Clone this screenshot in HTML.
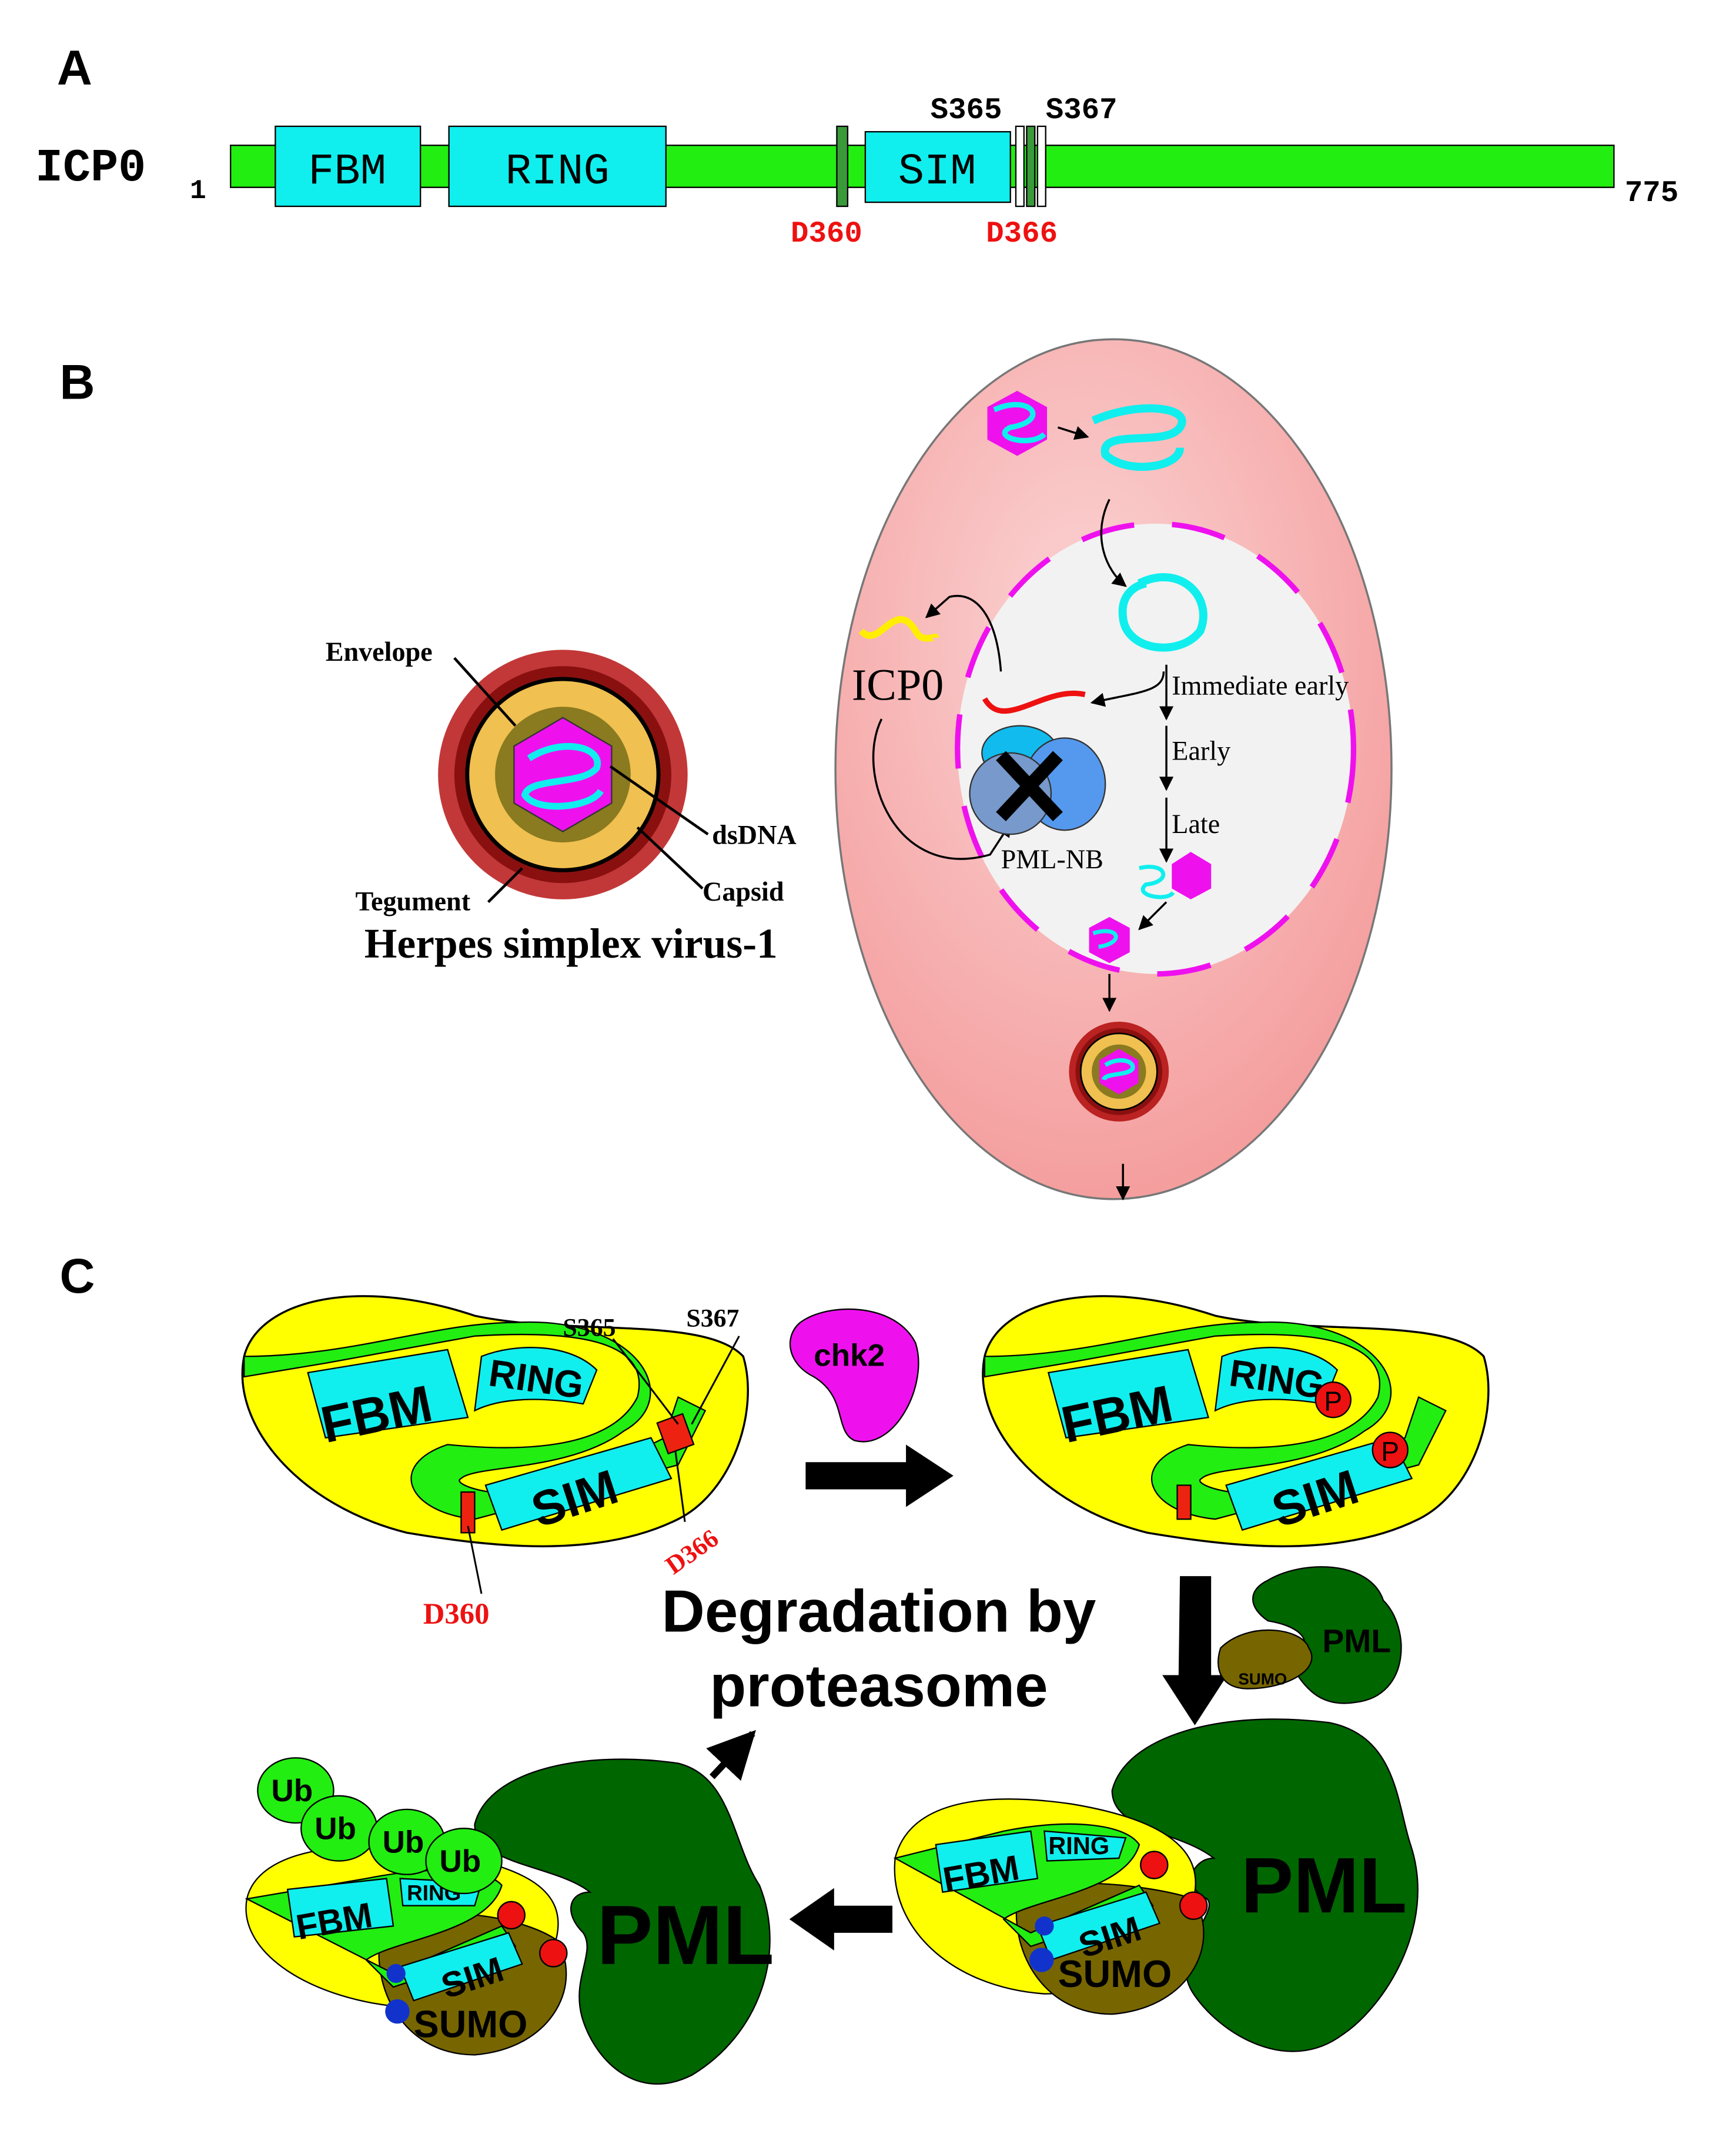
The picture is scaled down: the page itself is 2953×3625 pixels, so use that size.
<!DOCTYPE html>
<html><head><meta charset="utf-8"><style>
html,body{margin:0;padding:0;background:#fff}
svg{display:block}
.mono{font-family:"Liberation Mono",monospace}
.serif{font-family:"Liberation Serif",serif}
.sans{font-family:"Liberation Sans",sans-serif}
</style></head><body>
<svg width="2953" height="3625" viewBox="0 0 1280 1571" xmlns="http://www.w3.org/2000/svg">
<defs>
<radialGradient id="cell" cx="0.45" cy="0.35" r="0.7">
<stop offset="0" stop-color="#fbd4d4"/><stop offset="1" stop-color="#f49a9a"/></radialGradient>
<marker id="ar" viewBox="0 0 10 10" refX="9" refY="5" markerWidth="7" markerHeight="7" orient="auto"><path d="M0,0L10,5L0,10z" fill="#000"/></marker>
</defs>
<!-- Panel A -->
<text x="42" y="62" class="sans" font-size="36" font-weight="bold">A</text>
<text x="26" y="133" class="mono" font-size="34" font-weight="bold">ICP0</text>
<text x="140" y="146" class="mono" font-size="20" font-weight="bold">1</text>
<rect x="170" y="107" width="1020" height="31" fill="#22ee11" stroke="#000"/>
<rect x="203" y="93" width="107" height="59" fill="#11eeee" stroke="#000"/>
<text x="256" y="135" class="mono" font-size="32" text-anchor="middle">FBM</text>
<rect x="331" y="93" width="160" height="59" fill="#11eeee" stroke="#000"/>
<text x="411" y="135" class="mono" font-size="32" text-anchor="middle">RING</text>
<rect x="617" y="93" width="8" height="59" fill="#3a9a3a" stroke="#000"/>
<rect x="638" y="97" width="107" height="52" fill="#11eeee" stroke="#000"/>
<text x="691" y="135" class="mono" font-size="32" text-anchor="middle">SIM</text>
<rect x="749" y="93" width="6" height="59" fill="#fff" stroke="#000"/>
<rect x="757" y="93" width="6" height="59" fill="#3a9a3a" stroke="#000"/>
<rect x="765" y="93" width="6" height="59" fill="#fff" stroke="#000"/>
<text x="686" y="87" class="mono" font-size="22" font-weight="bold">S365</text>
<text x="771" y="87" class="mono" font-size="22" font-weight="bold">S367</text>
<text x="583" y="178" class="mono" font-size="22" font-weight="bold" fill="#ee1111">D360</text>
<text x="727" y="178" class="mono" font-size="22" font-weight="bold" fill="#ee1111">D366</text>
<text x="1198" y="148" class="mono" font-size="22" font-weight="bold">775</text>

<!-- Panel B -->
<text x="44" y="294" class="sans" font-size="36" font-weight="bold">B</text>
<!-- virus -->
<g transform="translate(415,571)">
<circle r="92" fill="#b22" opacity="0.9"/>
<circle r="80" fill="#8a1010"/>
<circle r="72" fill="#000"/>
<circle r="69" fill="#f0c050"/>
<circle r="50" fill="#8a7a20"/>
<polygon points="0,-42 36,-21 36,21 0,42 -36,21 -36,-21" fill="#ee11ee" stroke="#333"/>
<path d="M-25,-12 C0,-28 30,-20 25,-5 C15,8 -25,2 -28,15 C-20,28 20,25 28,12" fill="none" stroke="#11eeee" stroke-width="5"/>
</g>
<g class="serif" font-size="20" font-weight="bold">
<text x="240" y="487">Envelope</text>
<text x="525" y="622">dsDNA</text>
<text x="518" y="664">Capsid</text>
<text x="262" y="671">Tegument</text>
</g>
<g stroke="#000" stroke-width="2"><line x1="335" y1="485" x2="380" y2="535"/><line x1="450" y1="565" x2="522" y2="615"/><line x1="470" y1="610" x2="518" y2="655"/><line x1="360" y1="665" x2="385" y2="640"/></g>
<text x="421" y="706" class="serif" font-size="31" font-weight="bold" text-anchor="middle">Herpes simplex virus-1</text>
<!-- cell -->
<ellipse cx="821" cy="567" rx="205" ry="317" fill="url(#cell)" stroke="#777" stroke-width="1.5"/>
<ellipse cx="852" cy="552" rx="146" ry="166" fill="#f2f2f2" stroke="#ee11ee" stroke-width="4" stroke-dasharray="40,28"/>
<polygon points="750,288 772,300 772,324 750,336 728,324 728,300" fill="#ee11ee"/>
<path d="M733,302 C760,290 775,310 745,315 C730,322 760,330 770,320" fill="none" stroke="#11eeee" stroke-width="4"/>
<path d="M806,310 C840,295 880,300 870,315 C860,330 810,315 815,335 C830,350 870,345 870,330" fill="none" stroke="#11eeee" stroke-width="6"/>
<line x1="780" y1="315" x2="802" y2="322" stroke="#000" stroke-width="1.5" marker-end="url(#ar)"/>
<path d="M818,368 C805,395 815,420 830,432" fill="none" stroke="#000" stroke-width="1.5" marker-end="url(#ar)"/>
<path d="M840,430 C870,415 895,440 885,465 C870,485 830,480 828,455 C826,440 835,432 845,430" fill="none" stroke="#11eeee" stroke-width="6"/>
<line x1="860" y1="490" x2="860" y2="530" stroke="#000" stroke-width="1.5" marker-end="url(#ar)"/>
<line x1="860" y1="535" x2="860" y2="582" stroke="#000" stroke-width="1.5" marker-end="url(#ar)"/>
<line x1="860" y1="588" x2="860" y2="635" stroke="#000" stroke-width="1.5" marker-end="url(#ar)"/>
<path d="M858,495 C858,510 840,510 805,518" fill="none" stroke="#000" stroke-width="1.5" marker-end="url(#ar)"/>
<g class="serif" font-size="20"><text x="864" y="512">Immediate early</text><text x="864" y="560">Early</text><text x="864" y="614">Late</text><text x="738" y="640">PML-NB</text></g>
<path d="M726,515 C740,540 770,505 800,512" fill="none" stroke="#ee1111" stroke-width="4"/>
<path d="M635,465 C648,480 660,440 675,465 C680,475 690,468 690,470" fill="none" stroke="#ffee00" stroke-width="5"/>
<text x="628" y="516" class="serif" font-size="33">ICP0</text>
<path d="M738,495 C735,455 720,435 700,440 L683,455" fill="none" stroke="#000" stroke-width="1.5" marker-end="url(#ar)"/>
<path d="M650,530 C630,570 660,650 730,630 L745,607" fill="none" stroke="#000" stroke-width="1.5" marker-end="url(#ar)"/>
<ellipse cx="752" cy="555" rx="28" ry="20" fill="#11bbee" stroke="#333"/>
<ellipse cx="785" cy="578" rx="30" ry="34" fill="#5599ee" stroke="#333"/>
<ellipse cx="745" cy="585" rx="30" ry="30" fill="#7799cc" stroke="#333"/>
<path d="M738,557 L780,602 M780,557 L738,602" stroke="#000" stroke-width="10"/>
<polygon points="878,628 893,637 893,655 878,663 864,655 864,637" fill="#ee11ee"/>
<path d="M840,640 C860,635 865,650 845,652 C835,660 860,665 865,658" fill="none" stroke="#11eeee" stroke-width="3"/>
<line x1="860" y1="665" x2="840" y2="685" stroke="#000" stroke-width="1.5" marker-end="url(#ar)"/>
<polygon points="818,676 833,684 833,702 818,710 803,702 803,684" fill="#ee11ee"/>
<path d="M806,688 C825,682 830,695 810,698" fill="none" stroke="#11eeee" stroke-width="3"/>
<line x1="818" y1="718" x2="818" y2="745" stroke="#000" stroke-width="1.5" marker-end="url(#ar)"/>
<g transform="translate(825,790) scale(0.4)"><circle r="92" fill="#b22"/><circle r="80" fill="#8a1010"/><circle r="72" fill="#000"/><circle r="69" fill="#f0c050"/><circle r="50" fill="#8a7a20"/><polygon points="0,-42 36,-21 36,21 0,42 -36,21 -36,-21" fill="#ee11ee"/><path d="M-25,-12 C0,-28 30,-20 25,-5 C15,8 -25,2 -28,15" fill="none" stroke="#11eeee" stroke-width="8"/></g>
<line x1="828" y1="858" x2="828" y2="884" stroke="#000" stroke-width="1.5" marker-end="url(#ar)"/>

<!-- Panel C -->
<text x="44" y="953" class="sans" font-size="36" font-weight="bold">C</text>
<!-- ICP0 blob 1 -->
<g>
<path d="M180,1000 C190,960 260,940 350,970 C420,985 520,970 548,1000 C560,1040 540,1100 500,1120 C440,1150 360,1140 300,1130 C220,1110 170,1050 180,1000z" fill="#ffff00" stroke="#000" stroke-width="1.5"/>
<path d="M180,1015 L240,1005 L350,985 C430,980 480,990 470,1030 C450,1070 380,1070 330,1065 C285,1080 300,1115 350,1120 L500,1080 L520,1040 L500,1030 L490,1060 L420,1095 C380,1110 330,1095 340,1090 C350,1080 420,1085 460,1055 C505,1030 470,970 380,975 C320,975 260,1000 180,1000z" fill="#22ee11" stroke="#000"/>
<path d="M227,1012 L330,995 L345,1045 L240,1060z" fill="#11eeee" stroke="#000"/>
<path d="M355,1000 C380,990 420,990 440,1010 L430,1035 C400,1030 370,1030 350,1040z" fill="#11eeee" stroke="#000"/>
<path d="M358,1095 L480,1060 L495,1090 L370,1128z" fill="#11eeee" stroke="#000"/>
<text x="236" y="1055" class="sans" font-size="38" font-weight="bold" transform="rotate(-12 280 1040)">FBM</text>
<text x="360" y="1027" class="sans" font-size="28" font-weight="bold" transform="rotate(8 400 1020)">RING</text>
<text x="390" y="1118" class="sans" font-size="36" font-weight="bold" transform="rotate(-18 420 1100)">SIM</text>
<rect x="340" y="1100" width="10" height="30" fill="#ee2211" stroke="#000"/>
<rect x="488" y="1045" width="20" height="24" fill="#ee2211" stroke="#000" transform="rotate(-20 498 1057)"/>
</g>
<g class="serif" font-weight="bold" font-size="19"><text x="415" y="985">S365</text><text x="506" y="978">S367</text></g>
<text x="486" y="1152" class="serif" font-weight="bold" font-size="19" fill="#ee1111" transform="rotate(-35 506 1140)">D366</text>
<text x="312" y="1197" class="serif" font-weight="bold" font-size="22" fill="#ee1111">D360</text>
<g stroke="#000" stroke-width="1.3"><line x1="452" y1="987" x2="500" y2="1050"/><line x1="545" y1="985" x2="510" y2="1050"/><line x1="498" y1="1070" x2="505" y2="1122"/><line x1="345" y1="1125" x2="355" y2="1175"/></g>
<!-- chk2 -->
<path d="M590,975 C610,960 660,960 675,990 C685,1020 660,1070 630,1062 C615,1055 625,1030 600,1015 C580,1005 578,985 590,975z" fill="#ee11ee" stroke="#000"/>
<text x="600" y="1007" class="sans" font-size="23" font-weight="bold">chk2</text>
<path d="M594,1078 L668,1078 L668,1065 L703,1088 L668,1111 L668,1098 L594,1098z" fill="#000"/>
<!-- ICP0 blob 2 -->
<g transform="translate(546,0)">
<path d="M180,1000 C190,960 260,940 350,970 C420,985 520,970 548,1000 C560,1040 540,1100 500,1120 C440,1150 360,1140 300,1130 C220,1110 170,1050 180,1000z" fill="#ffff00" stroke="#000" stroke-width="1.5"/>
<path d="M180,1015 L240,1005 L350,985 C430,980 480,990 470,1030 C450,1070 380,1070 330,1065 C285,1080 300,1115 350,1120 L500,1080 L520,1040 L500,1030 L490,1060 L420,1095 C380,1110 330,1095 340,1090 C350,1080 420,1085 460,1055 C505,1030 470,970 380,975 C320,975 260,1000 180,1000z" fill="#22ee11" stroke="#000"/>
<path d="M227,1012 L330,995 L345,1045 L240,1060z" fill="#11eeee" stroke="#000"/>
<path d="M355,1000 C380,990 420,990 440,1010 L430,1035 C400,1030 370,1030 350,1040z" fill="#11eeee" stroke="#000"/>
<path d="M358,1095 L480,1060 L495,1090 L370,1128z" fill="#11eeee" stroke="#000"/>
<text x="236" y="1055" class="sans" font-size="38" font-weight="bold" transform="rotate(-12 280 1040)">FBM</text>
<text x="360" y="1027" class="sans" font-size="28" font-weight="bold" transform="rotate(8 400 1020)">RING</text>
<text x="390" y="1118" class="sans" font-size="36" font-weight="bold" transform="rotate(-18 420 1100)">SIM</text>
<rect x="322" y="1095" width="10" height="25" fill="#ee2211" stroke="#000"/>
<circle cx="437" cy="1032" r="13" fill="#ee1111" stroke="#000"/><text x="437" y="1040" class="sans" font-size="20" text-anchor="middle">P</text>
<circle cx="479" cy="1069" r="13" fill="#ee1111" stroke="#000"/><text x="479" y="1077" class="sans" font-size="20" text-anchor="middle">P</text>
</g>
<path d="M870,1162 L893,1162 L893,1235 L905,1235 L881,1272 L857,1235 L869,1235z" fill="#000"/>
<!-- PML small -->
<path d="M935,1165 C960,1150 1010,1150 1020,1180 C1040,1200 1040,1250 1000,1255 C970,1260 960,1240 950,1225 C970,1215 965,1200 935,1195 C920,1185 920,1172 935,1165z" fill="#006600" stroke="#000"/>
<text x="975" y="1218" class="sans" font-size="24" font-weight="bold">PML</text>
<path d="M900,1215 C920,1195 960,1200 965,1215 C975,1230 950,1245 920,1245 C900,1245 895,1230 900,1215z" fill="#776600" stroke="#000"/>
<text x="913" y="1242" class="sans" font-size="12" font-weight="bold">SUMO</text>
<text x="648" y="1203" class="sans" font-size="44" font-weight="bold" text-anchor="middle" transform="scale(1 1)">Degradation by</text>
<text x="648" y="1258" class="sans" font-size="44" font-weight="bold" text-anchor="middle">proteasome</text>
<line x1="525" y1="1310" x2="555" y2="1278" stroke="#000" stroke-width="5" marker-end="url(#ar)"/>
<!-- bottom right complex -->
<path d="M820,1320 C830,1280 900,1260 980,1270 C1030,1280 1030,1330 1040,1360 C1060,1420 1020,1480 990,1500 C950,1530 900,1500 880,1470 C860,1440 900,1410 890,1400 C870,1390 880,1370 895,1370 C870,1350 820,1350 820,1320z" fill="#006600" stroke="#000"/>
<text x="915" y="1410" class="sans" font-size="58" font-weight="bold">PML</text>
<path d="M660,1370 C670,1330 720,1320 790,1330 C850,1340 890,1360 880,1400 C870,1440 830,1470 770,1470 C700,1465 655,1420 660,1370z" fill="#ffff00" stroke="#000"/>
<path d="M750,1400 C770,1380 850,1390 880,1400 C900,1430 880,1480 820,1485 C770,1485 745,1440 750,1400z" fill="#776600" stroke="#000"/>
<path d="M660,1370 L740,1350 C790,1340 830,1345 840,1360 C830,1395 760,1400 740,1415 L760,1435 L850,1405 L840,1390 L760,1425z" fill="#22ee11" stroke="#000"/>
<path d="M690,1360 L760,1350 L765,1385 L695,1395z" fill="#11eeee" stroke="#000"/>
<path d="M770,1350 L830,1355 L825,1370 L772,1372z" fill="#11eeee" stroke="#000"/>
<path d="M765,1420 L845,1395 L855,1418 L775,1445z" fill="#11eeee" stroke="#000"/>
<text x="695" y="1390" class="sans" font-size="26" font-weight="bold" transform="rotate(-10 725 1380)">FBM</text>
<text x="773" y="1367" class="sans" font-size="18" font-weight="bold">RING</text>
<text x="795" y="1438" class="sans" font-size="26" font-weight="bold" transform="rotate(-18 815 1428)">SIM</text>
<circle cx="851" cy="1375" r="10" fill="#ee1111" stroke="#000"/><circle cx="880" cy="1405" r="10" fill="#ee1111" stroke="#000"/>
<circle cx="768" cy="1445" r="9" fill="#1133cc"/><circle cx="770" cy="1420" r="7" fill="#1133cc"/>
<text x="780" y="1465" class="sans" font-size="28" font-weight="bold">SUMO</text>
<path d="M658,1405 L615,1405 L615,1392 L582,1415 L615,1438 L615,1425 L658,1425z" fill="#000"/>
<!-- bottom left complex -->
<path d="M350,1345 C360,1305 430,1290 500,1300 C540,1310 540,1360 560,1390 C580,1440 560,1500 510,1530 C470,1550 440,1520 430,1490 C420,1460 440,1440 430,1425 C415,1410 420,1395 435,1395 C410,1375 350,1375 350,1345z" fill="#006600" stroke="#000"/>
<text x="440" y="1448" class="sans" font-size="62" font-weight="bold">PML</text>
<path d="M182,1400 C190,1365 250,1355 320,1365 C380,1375 420,1390 410,1430 C400,1460 360,1480 300,1480 C230,1475 175,1440 182,1400z" fill="#ffff00" stroke="#000"/>
<path d="M280,1430 C300,1400 380,1410 410,1430 C430,1460 410,1510 350,1515 C300,1515 275,1470 280,1430z" fill="#776600" stroke="#000"/>
<path d="M182,1400 L270,1385 C320,1375 360,1378 370,1390 C360,1425 290,1430 270,1445 L290,1465 L380,1435 L370,1420 L290,1455z" fill="#22ee11" stroke="#000"/>
<path d="M212,1393 L285,1385 L290,1420 L217,1428z" fill="#11eeee" stroke="#000"/>
<path d="M295,1385 L355,1388 L350,1405 L297,1405z" fill="#11eeee" stroke="#000"/>
<path d="M295,1450 L375,1425 L385,1448 L305,1475z" fill="#11eeee" stroke="#000"/>
<text x="218" y="1425" class="sans" font-size="26" font-weight="bold" transform="rotate(-10 248 1415)">FBM</text>
<text x="300" y="1401" class="sans" font-size="16" font-weight="bold">RING</text>
<text x="325" y="1468" class="sans" font-size="26" font-weight="bold" transform="rotate(-18 345 1458)">SIM</text>
<circle cx="377" cy="1412" r="10" fill="#ee1111" stroke="#000"/><circle cx="408" cy="1440" r="10" fill="#ee1111" stroke="#000"/>
<circle cx="293" cy="1483" r="9" fill="#1133cc"/><circle cx="292" cy="1455" r="7" fill="#1133cc"/>
<text x="305" y="1502" class="sans" font-size="28" font-weight="bold">SUMO</text>
<!-- Ub chain -->
<g fill="#22ee11" stroke="#000">
<ellipse cx="218" cy="1320" rx="28" ry="24"/><ellipse cx="250" cy="1348" rx="28" ry="24"/><ellipse cx="300" cy="1358" rx="28" ry="24"/><ellipse cx="342" cy="1372" rx="28" ry="24"/></g>
<g class="sans" font-size="23" font-weight="bold"><text x="200" y="1328">Ub</text><text x="232" y="1356">Ub</text><text x="282" y="1366">Ub</text><text x="324" y="1380">Ub</text></g>
</svg>
</body></html>
